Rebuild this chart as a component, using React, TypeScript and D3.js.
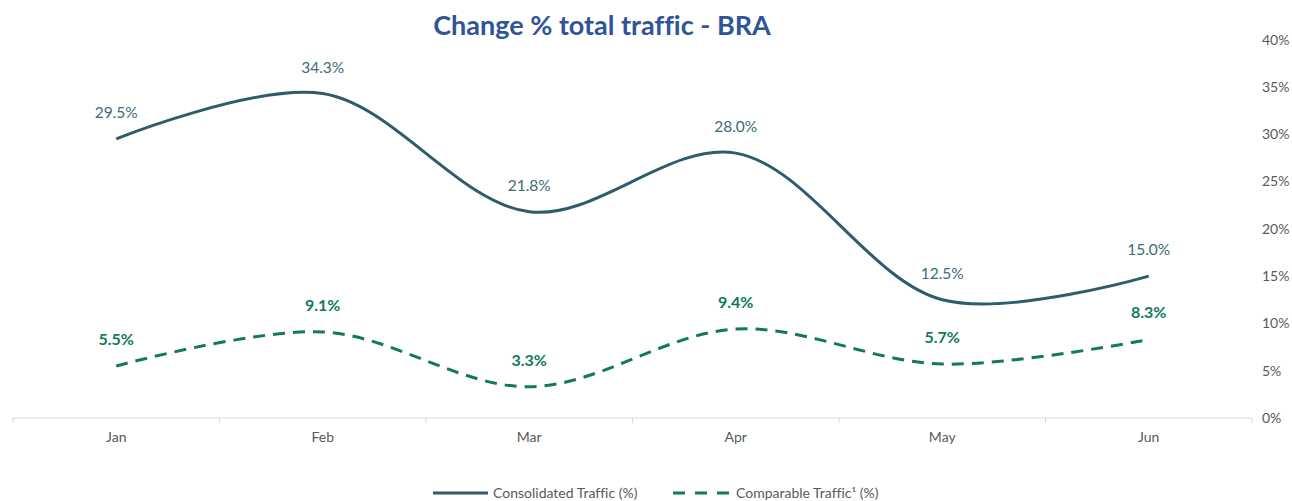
import { useEffect, useRef } from "react";
import * as d3 from "d3";

const months = ["Jan", "Feb", "Mar", "Apr", "May", "Jun"];
const consolidated = [29.5, 34.3, 21.8, 28.0, 12.5, 15.0];
const comparable = [5.5, 9.1, 3.3, 9.4, 5.7, 8.3];
const yTicks = [0, 5, 10, 15, 20, 25, 30, 35, 40];

const App = () => {
  const svgRef = useRef<SVGSVGElement>(null);

  useEffect(() => {
    const width = 1292;
    const height = 501;
    const font = "Lato, 'Open Sans', sans-serif";

    const svg = d3.select(svgRef.current);
    svg.selectAll("*").remove();
    svg
      .attr("width", width)
      .attr("height", height)
      .style("font-variant-ligatures", "none");

    const x = d3.scaleBand().domain(months).range([13, 1252]);
    const y = d3.scaleLinear().domain([0, 40]).range([418, 39.6]);
    const cx = (m: string) => (x(m) as number) + x.bandwidth() / 2;

    // title
    svg
      .append("text")
      .attr("x", 602)
      .attr("y", 35)
      .attr("text-anchor", "middle")
      .attr("font-family", font)
      .attr("font-weight", "bold")
      .attr("font-size", "27px")
      .attr("fill", "#2F5597")
      .text("Change % total traffic - BRA");

    // right axis labels
    const yAxis = d3
      .axisRight(y)
      .tickValues(yTicks)
      .tickSize(0)
      .tickPadding(0)
      .tickFormat((d) => `${d}%`);
    const gy = svg.append("g").attr("transform", "translate(1262,0)").call(yAxis);
    gy.select(".domain").remove();
    gy.selectAll("text")
      .attr("font-family", font)
      .attr("font-size", "14px")
      .attr("fill", "#595959");

    // x axis
    const gx = svg.append("g").attr("transform", "translate(0,418)");
    gx.append("line")
      .attr("x1", 13)
      .attr("x2", 1252)
      .attr("stroke", "#D9D9D9")
      .attr("stroke-width", 1);
    const bounds = months.map((m) => x(m) as number).concat([1252]);
    gx.selectAll(".tk")
      .data(bounds)
      .join("line")
      .attr("class", "tk")
      .attr("x1", (d) => d)
      .attr("x2", (d) => d)
      .attr("y1", 0)
      .attr("y2", 5)
      .attr("stroke", "#D9D9D9");
    gx.selectAll(".lbl")
      .data(months)
      .join("text")
      .attr("class", "lbl")
      .attr("x", (d) => cx(d))
      .attr("y", 24)
      .attr("text-anchor", "middle")
      .attr("font-family", font)
      .attr("font-size", "14px")
      .attr("fill", "#595959")
      .text((d) => d);

    const line = d3
      .line<number>()
      .x((_, i) => cx(months[i]))
      .y((d) => y(d))
      .curve(d3.curveCatmullRom.alpha(0.5));

    svg
      .append("path")
      .attr("d", line(consolidated))
      .attr("fill", "none")
      .attr("stroke", "#2B5D6B")
      .attr("stroke-width", 3);

    svg
      .append("path")
      .attr("d", line(comparable))
      .attr("fill", "none")
      .attr("stroke", "#107A5A")
      .attr("stroke-width", 3)
      .attr("stroke-dasharray", "12,8");

    svg
      .append("g")
      .selectAll("text")
      .data(consolidated)
      .join("text")
      .attr("x", (_, i) => cx(months[i]))
      .attr("y", (d) => y(d) - 21)
      .attr("text-anchor", "middle")
      .attr("font-family", font)
      .attr("font-size", "15.5px")
      .attr("fill", "#3E6B78")
      .text((d) => `${d.toFixed(1)}%`);

    svg
      .append("g")
      .selectAll("text")
      .data(comparable)
      .join("text")
      .attr("x", (_, i) => cx(months[i]))
      .attr("y", (d) => y(d) - 21)
      .attr("text-anchor", "middle")
      .attr("font-family", font)
      .attr("font-weight", "bold")
      .attr("font-size", "16px")
      .attr("fill", "#107A5A")
      .text((d) => `${d.toFixed(1)}%`);

    // legend
    const lg = svg.append("g").attr("font-family", font).attr("font-size", "14px");
    lg.append("line")
      .attr("x1", 433)
      .attr("x2", 488)
      .attr("y1", 493)
      .attr("y2", 493)
      .attr("stroke", "#2B5D6B")
      .attr("stroke-width", 3);
    lg.append("text")
      .attr("x", 493)
      .attr("y", 498)
      .attr("fill", "#595959")
      .text("Consolidated Traffic (%)");
    lg.append("line")
      .attr("x1", 673)
      .attr("x2", 729)
      .attr("y1", 493)
      .attr("y2", 493)
      .attr("stroke", "#107A5A")
      .attr("stroke-width", 3)
      .attr("stroke-dasharray", "12,10");
    lg.append("text")
      .attr("x", 736)
      .attr("y", 498)
      .attr("fill", "#595959")
      .text("Comparable Traffic¹ (%)");
  }, []);

  return (
    <svg
      ref={svgRef}
      style={{ position: "absolute", left: 0, top: 0, background: "#fff" }}
    ></svg>
  );
};

export default App;
